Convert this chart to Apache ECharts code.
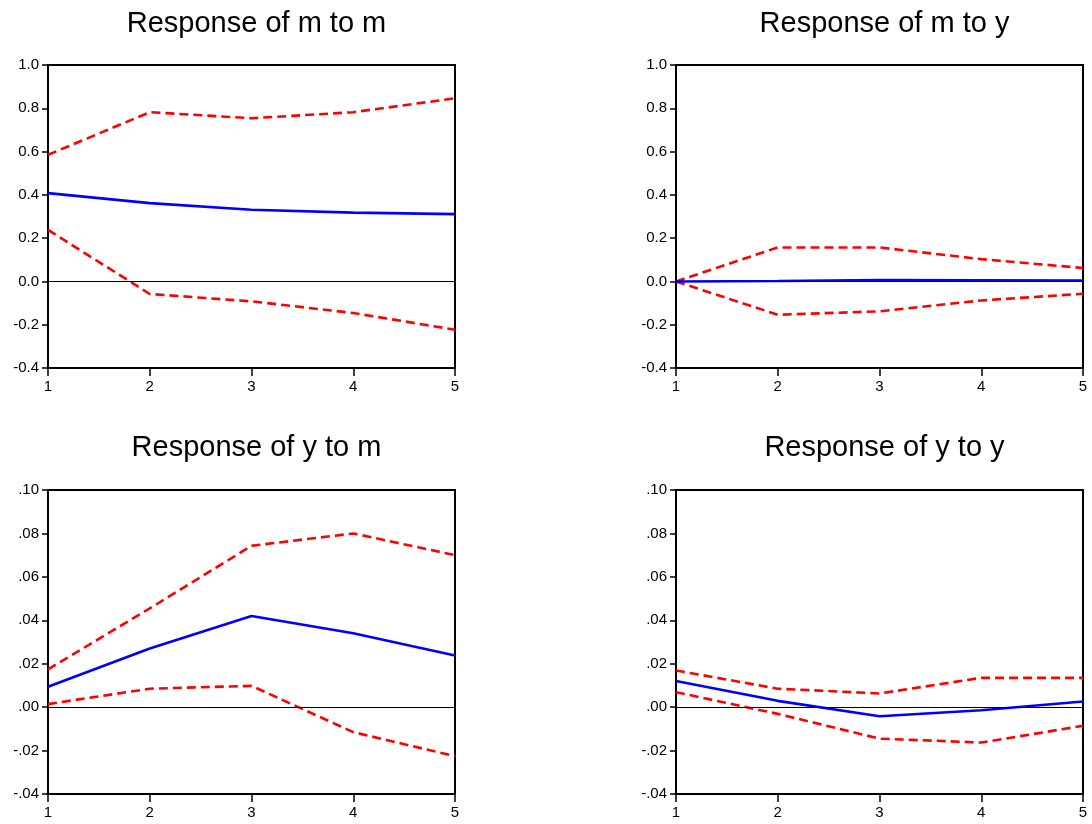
<!DOCTYPE html>
<html>
<head>
<meta charset="utf-8">
<script src="https://cdn.jsdelivr.net/npm/echarts@6/dist/echarts.min.js"></script>
<style>
  html, body { margin: 0; padding: 0; background: #fff; }
  #main { width: 1092px; height: 824px; }
</style>
</head>
<body>
<div id="main"></div>
<script>
var periods = [1, 2, 3, 4, 5];

var titles = ["Response of m to m", "Response of m to y", "Response of y to m", "Response of y to y"];

// m to m
var mmResp  = [0.408, 0.362, 0.331, 0.318, 0.311];
var mmUpper = [0.585, 0.782, 0.754, 0.782, 0.846];
var mmLower = [0.238, -0.058, -0.092, -0.146, -0.223];

// m to y
var myResp  = [0.000, 0.002, 0.006, 0.005, 0.004];
var myUpper = [0.000, 0.157, 0.157, 0.103, 0.062];
var myLower = [0.000, -0.154, -0.138, -0.088, -0.057];

// y to m
var ymResp  = [0.0094, 0.0270, 0.0420, 0.0340, 0.0238];
var ymUpper = [0.0174, 0.0455, 0.0743, 0.0800, 0.0700];
var ymLower = [0.0014, 0.0085, 0.0098, -0.0115, -0.0226];

// y to y
var yyResp  = [0.0120, 0.0029, -0.0042, -0.0014, 0.0026];
var yyUpper = [0.0169, 0.0085, 0.0063, 0.0135, 0.0135];
var yyLower = [0.0069, -0.0031, -0.0145, -0.0163, -0.0086];

var panels = [
  { resp: mmResp, up: mmUpper, lo: mmLower, min: -0.4, max: 1.0, step: 0.2, dec: 1 },
  { resp: myResp, up: myUpper, lo: myLower, min: -0.4, max: 1.0, step: 0.2, dec: 1 },
  { resp: ymResp, up: ymUpper, lo: ymLower, min: -0.04, max: 0.10, step: 0.02, dec: 2 },
  { resp: yyResp, up: yyUpper, lo: yyLower, min: -0.04, max: 0.10, step: 0.02, dec: 2 }
];

var font = "Liberation Sans, Arial, sans-serif";
var gridPos = [
  { left: 48, top: 65, width: 407, height: 303 },
  { left: 676, top: 65, width: 407, height: 303 },
  { left: 48, top: 490, width: 407, height: 304 },
  { left: 676, top: 490, width: 407, height: 304 }
];
var titleTop = [4, 4, 428, 428];

function pairs(arr) {
  var out = [];
  for (var i = 0; i < arr.length; i++) out.push([periods[i], arr[i]]);
  return out;
}

function fmt(dec) {
  return function (v) {
    var s = (Math.round(v * 1000) / 1000).toFixed(dec);
    if (dec == 2) s = s.replace("0.", ".");
    return s;
  };
}

var option = { animation: false, backgroundColor: "#fff", title: [], grid: [], xAxis: [], yAxis: [], series: [] };

for (var p = 0; p < 4; p++) {
  var g = gridPos[p];
  option.title.push({
    text: titles[p],
    left: g.left + g.width / 2,
    top: titleTop[p],
    textAlign: "center",
    textStyle: { fontFamily: font, fontSize: 29, fontWeight: "normal", color: "#000" }
  });
  option.grid.push({
    left: g.left, top: g.top, width: g.width, height: g.height,
    show: true, borderColor: "#000", borderWidth: 2, backgroundColor: "#fff"
  });
  option.xAxis.push({
    type: "value", gridIndex: p, min: 1, max: 5, interval: 1,
    axisLine: { show: true, onZero: false, lineStyle: { color: "#000", width: 2 } },
    axisTick: { show: true, inside: false, length: 8, lineStyle: { color: "#000", width: 1.5 } },
    axisLabel: { margin: 11, fontFamily: font, fontSize: 15, color: "#000" },
    splitLine: { show: false }
  });
  option.yAxis.push({
    type: "value", gridIndex: p, min: panels[p].min, max: panels[p].max, interval: panels[p].step,
    axisLine: { show: true, onZero: false, lineStyle: { color: "#000", width: 2 } },
    axisTick: { show: true, inside: false, length: 6, lineStyle: { color: "#000", width: 1.5 } },
    axisLabel: { margin: 9, fontFamily: font, fontSize: 15, color: "#000", formatter: fmt(panels[p].dec) },
    splitLine: { show: false }
  });
  // response line, with zero line
  option.series.push({
    type: "line", xAxisIndex: p, yAxisIndex: p, data: pairs(panels[p].resp),
    symbol: "none", z: 4,
    lineStyle: { color: "#0000ff", width: 2.6 },
    markLine: {
      silent: true, symbol: "none", label: { show: false },
      lineStyle: { color: "#000", width: 1, type: "solid" },
      data: [{ yAxis: 0 }]
    }
  });
  option.series.push({
    type: "line", xAxisIndex: p, yAxisIndex: p, data: pairs(panels[p].up),
    symbol: "none", z: 3,
    lineStyle: { color: "#ff0000", width: 2.6, type: [9, 5] }
  });
  option.series.push({
    type: "line", xAxisIndex: p, yAxisIndex: p, data: pairs(panels[p].lo),
    symbol: "none", z: 3,
    lineStyle: { color: "#ff0000", width: 2.6, type: [9, 5] }
  });
}

var chart = echarts.init(document.getElementById("main"), null, { renderer: "canvas" });
chart.setOption(option);
</script>
</body>
</html>
